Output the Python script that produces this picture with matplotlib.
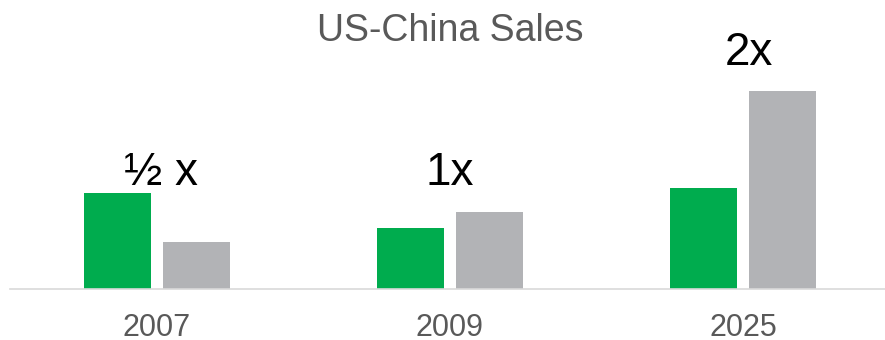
import matplotlib.pyplot as plt
import numpy as np

plt.rcParams['font.family'] = ['Liberation Sans', 'DejaVu Sans']

years = ['2007', '2009', '2025']
us_sales = [96, 61, 101]
china_sales = [47, 77, 198]
multipliers = ['\u00bd x', '1x', '2x']
label_y = [104, 104, 224]
label_dx = [0.014, 0.0, 0.02]

fig = plt.figure(figsize=(8.85, 3.4), dpi=100)
ax = fig.add_axes([10/885, 51/340, 875/885, 289/340])

x = np.arange(len(years))
w = 0.229
ax.bar(x - 0.135, us_sales, w, color='#00AC4E')
ax.bar(x + 0.135, china_sales, w, color='#B2B3B6')

for i, t in enumerate(multipliers):
    ax.text(x[i] + label_dx[i], label_y[i], t, ha='center', va='baseline',
            fontsize=33, color='black')

ax.set_xlim(-0.502, 2.485)
ax.set_ylim(0, 289)
ax.set_xticks(x)
ax.set_xticklabels(years, fontsize=22, color='#595959')
ax.tick_params(axis='x', length=0, pad=17)
ax.set_yticks([])
for s in ['top', 'right', 'left']:
    ax.spines[s].set_visible(False)
ax.spines['bottom'].set_color('#D9D9D9')
ax.spines['bottom'].set_linewidth(1.2)

fig.text(450/885, 1 - 31/340, 'US-China Sales', ha='center', va='center',
         fontsize=27, color='#595959')

plt.savefig('out.png', dpi=100)
